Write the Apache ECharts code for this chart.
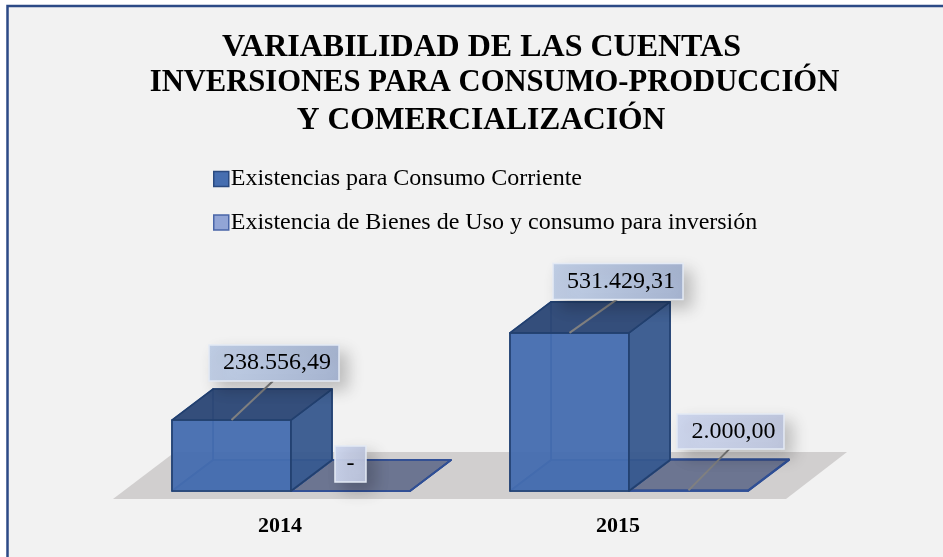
<!DOCTYPE html>
<html>
<head>
<meta charset="utf-8">
<title>Variabilidad de las cuentas</title>
<script src="https://cdn.jsdelivr.net/npm/echarts@6/dist/echarts.min.js"></script>
<style>
    html, body {margin: 0; padding: 0; background: #fff;}
    #chart {width: 943px; height: 557px;}
</style>
</head>
<body>
<div id="chart"></div>
<script>
const titleLines = [
    'VARIABILIDAD DE LAS CUENTAS',
    'INVERSIONES PARA CONSUMO-PRODUCCIÓN',
    'Y COMERCIALIZACIÓN'
];
const categories = ['2014', '2015'];
const consumoCorriente = [238556.49, 531429.31];
const bienesUso = [0, 2000];
const seriesNames = [
    'Existencias para Consumo Corriente',
    'Existencia de Bienes de Uso y consumo para inversión'
];

const FONT = '"Liberation Serif", "Times New Roman", serif';
const DEPTH_X = 41;
const DEPTH_Y = 31;
const BAR_SHARE = 0.352; // share of the category band taken by one bar

// the three title lines are not centred on the same x in the original
const titleLayout = [
    {center: 481.5, top: 32, size: 32},
    {center: 494.5, top: 68, size: 30.6},
    {center: 481, top: 104.5, size: 31.5}
];

// where each value box sits, relative to the middle of the bar's front top edge
const boxOffsetsA = [[42.5, -57, 130, 36], [48.5, -51.5, 130, 36]];
const boxOffsetsB = [[0, -27, 31, 36], [42, -59, 107, 35]];

// 238556.49 -> 238.556,49 and 0 -> -
function formatValue(v) {
    if (!v) return '-';
    const parts = v.toFixed(2).split('.');
    return parts[0].replace(/\B(?=(\d{3})+$)/g, '.') + ',' + parts[1];
}

function poly(points, fill, stroke) {
    return {
        type: 'polygon',
        shape: {points: points},
        style: {fill: fill, stroke: stroke, lineWidth: 1.6, lineJoin: 'round'}
    };
}

function renderBox(side, boxes, colors) {
    return function (params, api) {
        const i = params.dataIndex;
        const base = api.coord([api.value(0), 0]);
        const top = api.coord([api.value(0), api.value(1)]);
        const w = api.size([1, 0])[0] * BAR_SHARE;
        const x0 = side === 0 ? base[0] - w : base[0];
        const x1 = x0 + w;
        const y0 = base[1];
        const y1 = top[1];
        const dx = DEPTH_X, dy = DEPTH_Y;
        const midX = (x0 + x1) / 2;
        const box = boxes[i];
        const cx = midX + box[0];
        const cy = y1 + box[1];
        const value = api.value(1);

        const children = [
            // back faces first, they show through the front ones
            poly([[x0 + dx, y0 - dy], [x1 + dx, y0 - dy], [x1 + dx, y1 - dy], [x0 + dx, y1 - dy]], colors.back, colors.inner),
            poly([[x0, y0], [x0 + dx, y0 - dy], [x0 + dx, y1 - dy], [x0, y1]], colors.back, colors.inner),
            poly([[x0, y0], [x1, y0], [x1 + dx, y0 - dy], [x0 + dx, y0 - dy]], colors.floor, colors.inner),
            poly([[x0, y0], [x1, y0], [x1, y1], [x0, y1]], colors.front, colors.edge),
            poly([[x1, y0], [x1 + dx, y0 - dy], [x1 + dx, y1 - dy], [x1, y1]], colors.side, colors.edge),
            poly([[x0, y1], [x1, y1], [x1 + dx, y1 - dy], [x0 + dx, y1 - dy]], colors.top, colors.edge)
        ];
        if (value) {
            children.push({
                type: 'line',
                shape: {x1: midX, y1: y1, x2: cx - 1, y2: cy + box[3] / 2},
                style: {stroke: '#808080', lineWidth: 2}
            });
        }
        children.push({
            type: 'rect',
            shape: {x: cx - box[2] / 2, y: cy - box[3] / 2, width: box[2], height: box[3]},
            style: {
                fill: {
                    type: 'linear', x: 0, y: 0, x2: 1, y2: 0,
                    colorStops: [{offset: 0, color: colors.boxFrom}, {offset: 1, color: colors.boxTo}]
                },
                stroke: '#e4eaf5',
                lineWidth: 1.5,
                shadowBlur: 16,
                shadowOffsetX: 8,
                shadowOffsetY: 8,
                shadowColor: 'rgba(0,0,0,0.22)'
            }
        }, {
            type: 'text',
            style: {
                text: formatValue(value),
                x: cx + (value ? 3 : 0),
                y: cy,
                fill: '#000',
                font: '24px ' + FONT,
                textAlign: 'center',
                textVerticalAlign: 'middle'
            }
        });
        return {type: 'group', children: children};
    };
}

const colorsA = {
    front: 'rgba(70,110,176,0.9)',
    side: 'rgba(54,86,140,0.88)',
    top: 'rgba(44,70,116,0.92)',
    back: 'rgba(56,96,160,0.55)',
    floor: 'rgba(56,96,160,0.75)',
    edge: '#22406f',
    inner: '#2f5596',
    boxFrom: '#c0cee5',
    boxTo: '#a6b4d0'
};
// the second series is almost flat, only its top face carries the fill
const colorsB = {
    front: 'transparent',
    side: 'transparent',
    top: 'rgba(73,87,124,0.75)',
    back: 'transparent',
    floor: 'transparent',
    edge: '#2f4f96',
    inner: '#2f4f96',
    boxFrom: 'rgba(205,214,238,0.95)',
    boxTo: 'rgba(190,198,222,0.95)'
};

const chart = echarts.init(document.getElementById('chart'));
chart.setOption({
    animation: false,
    backgroundColor: '#fff',
    title: titleLines.map((line, i) => ({
        text: line,
        left: titleLayout[i].center,
        top: titleLayout[i].top,
        padding: 0,
        textAlign: 'center',
        textStyle: {
            fontFamily: FONT,
            fontSize: titleLayout[i].size,
            fontWeight: 'bold',
            color: '#000'
        }
    })),
    legend: {
        orient: 'vertical',
        left: 213,
        top: 167,
        padding: 0,
        itemWidth: 15,
        itemHeight: 15,
        itemGap: 19.5,
        selectedMode: false,
        textStyle: {fontFamily: FONT, fontSize: 24, color: '#000', padding: [0, 0, 0, -3]},
        data: [
            {name: seriesNames[0], icon: 'rect', itemStyle: {color: '#466eb0', borderColor: '#2a4a80', borderWidth: 1.5}},
            {name: seriesNames[1], icon: 'rect', itemStyle: {color: '#92a5d6', borderColor: '#4a66a8', borderWidth: 1.5}}
        ]
    },
    grid: {left: 122, right: 145, top: 312.5, bottom: 66},
    xAxis: {
        type: 'category',
        data: categories,
        axisLine: {show: false},
        axisTick: {show: false},
        axisLabel: {
            margin: 24,
            padding: [0, 22, 0, 0],
            color: '#000',
            fontFamily: FONT,
            fontSize: 22,
            fontWeight: 'bold'
        }
    },
    yAxis: {type: 'value', min: 0, max: 600000, show: false},
    graphic: [
        {
            type: 'rect',
            z: -2,
            shape: {x: 7.5, y: 6, width: 960, height: 580},
            style: {fill: '#f2f2f2', stroke: '#2c4a86', lineWidth: 2.5}
        },
        {
            type: 'polygon',
            z: -1,
            shape: {points: [[113, 499], [786, 499], [847, 452], [175, 452]]},
            style: {fill: '#d1cfcf'}
        }
    ],
    series: [
        {
            name: seriesNames[1],
            type: 'custom',
            z: 3,
            clip: false,
            itemStyle: {color: '#92a5d6'},
            encode: {x: 0, y: 1},
            renderItem: renderBox(1, boxOffsetsB, colorsB),
            data: bienesUso.map((v, i) => [categories[i], v])
        },
        {
            name: seriesNames[0],
            type: 'custom',
            z: 4,
            clip: false,
            itemStyle: {color: '#466eb0'},
            encode: {x: 0, y: 1},
            renderItem: renderBox(0, boxOffsetsA, colorsA),
            data: consumoCorriente.map((v, i) => [categories[i], v])
        }
    ]
});
</script>
</body>
</html>
